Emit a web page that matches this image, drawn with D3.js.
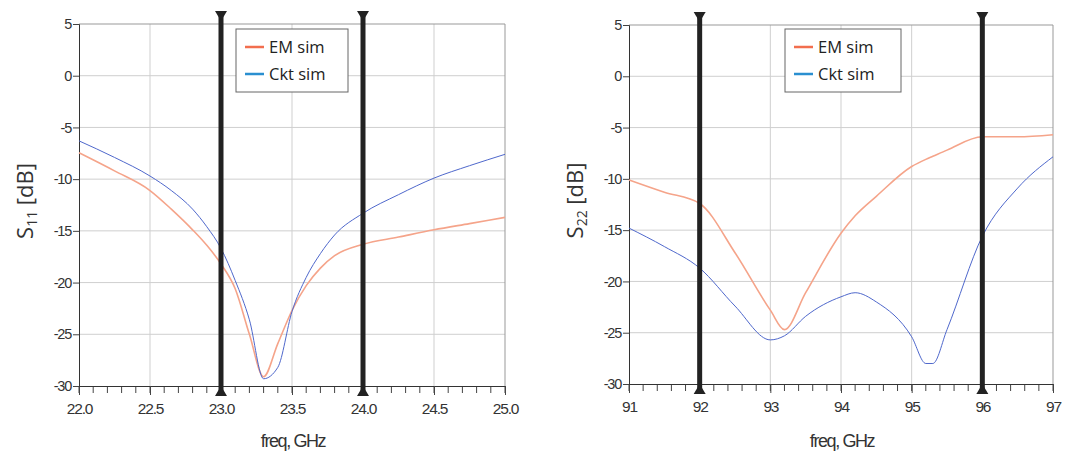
<!DOCTYPE html>
<html>
<head>
<meta charset="utf-8">
<script src="https://cdn.jsdelivr.net/npm/d3@7"></script>
<style>
  body { margin: 0; background: #fff; }
  svg { display: block; }
  .tick text { font-family: "Liberation Sans", Arial, sans-serif; letter-spacing: -1.2px; }
</style>
</head>
<body>
<div id="chart"></div>
<script>
// S11 panel (left)
const s11Freq = [22.0, 22.25, 22.5, 22.65, 22.8, 22.9, 23.0, 23.1, 23.2, 23.3, 23.4, 23.5, 23.6, 23.7, 23.8, 24.0, 24.25, 24.5, 24.75, 25.0];
const s11Em   = [-7.45, -9.2, -11.1, -12.9, -14.9, -16.4, -18.2, -20.6, -25.0, -29.1, -25.9, -22.7, -20.3, -18.6, -17.4, -16.3, -15.6, -14.9, -14.3, -13.7];
const s11Ckt  = [-6.3, -7.9, -9.7, -11.1, -12.9, -14.6, -16.7, -19.8, -23.6, -29.3, -28.2, -22.8, -19.5, -17.2, -15.4, -13.3, -11.5, -9.9, -8.7, -7.6];
const s11Markers = [23.0, 24.0];
const s11Ticks = [22.0, 22.5, 23.0, 23.5, 24.0, 24.5, 25.0];

// S22 panel (right)
const s22Freq = [91.0, 91.5, 92.0, 92.5, 93.0, 93.2, 93.5, 94.0, 94.2, 94.5, 95.0, 95.2, 95.3, 95.5, 96.0, 96.5, 97.0];
const s22Em   = [-10.1, -11.3, -12.4, -17.2, -22.8, -24.7, -21.1, -15.3, -13.6, -11.7, -8.8, -8.1, -7.8, -7.2, -5.9, -5.9, -5.7];
const s22Ckt  = [-14.8, -16.6, -18.7, -22.4, -25.7, -25.3, -23.4, -21.5, -21.1, -22.0, -25.4, -28.0, -28.0, -24.7, -15.6, -10.9, -7.85];
const s22Markers = [92, 96];
const s22Ticks = [91, 92, 93, 94, 95, 96, 97];

const yTicks = [5, 0, -5, -10, -15, -20, -25, -30];
const seriesNames = ["EM sim", "Ckt sim"];

const colors = { em: "#f5a48a", ckt: "#4f68cc", emLegend: "#f26e4e", cktLegend: "#2a8fd0" };

const width = 1065, height = 463;
const svg = d3.select("#chart").append("svg")
    .attr("width", width)
    .attr("height", height);

const hyphen = f => d => f(d).replace("\u2212", "-");

const panels = [
    { left: 79, right: 505, top: 24, bottom: 386, freq: s11Freq, em: s11Em, ckt: s11Ckt,
      markers: s11Markers, ticks: s11Ticks, minorStep: 0.1, fmt: d3.format(".1f"), sub: "11",
      legend: [236, 29, 112, 63] },
    { left: 629, right: 1053, top: 25, bottom: 384, freq: s22Freq, em: s22Em, ckt: s22Ckt,
      markers: s22Markers, ticks: s22Ticks, minorStep: 0.2, fmt: d3.format("d"), sub: "22",
      legend: [785, 29, 116, 63] }
];

panels.forEach(p => drawPanel(p));

function drawPanel(p) {
    const dom = d3.extent(p.ticks);
    const x = d3.scaleLinear().domain(dom).range([p.left, p.right]);
    const y = d3.scaleLinear().domain([-30, 5]).range([p.bottom, p.top]);
    const g = svg.append("g");

    // grid
    g.append("g").selectAll("line").data(yTicks.slice(1, -1)).join("line")
        .attr("x1", p.left).attr("x2", p.right)
        .attr("y1", d => y(d)).attr("y2", d => y(d))
        .attr("stroke", "#cfcfcf");
    g.append("g").selectAll("line").data(p.ticks.slice(1, -1)).join("line")
        .attr("y1", p.top).attr("y2", p.bottom)
        .attr("x1", d => x(d)).attr("x2", d => x(d))
        .attr("stroke", "#cfcfcf");

    // frame top / right
    g.append("path")
        .attr("d", `M${p.left},${p.top}H${p.right}V${p.bottom}`)
        .attr("fill", "none").attr("stroke", "#999");

    // minor ticks along bottom
    const minor = d3.range(dom[0], dom[1] + 1e-9, p.minorStep);
    g.append("g").selectAll("line").data(minor).join("line")
        .attr("x1", d => x(d)).attr("x2", d => x(d))
        .attr("y1", p.bottom).attr("y2", p.bottom + 7)
        .attr("stroke", "#444");

    // axes
    const xAxis = g.append("g")
        .attr("transform", `translate(0,${p.bottom})`)
        .call(d3.axisBottom(x).tickValues(p.ticks).tickFormat(p.fmt).tickSize(9).tickPadding(8));
    xAxis.select(".domain").attr("stroke", "#333");
    xAxis.selectAll(".tick line").attr("stroke", "#444");
    xAxis.selectAll("text").attr("font-size", 15.5).attr("fill", "#333");

    const yAxis = g.append("g")
        .attr("transform", `translate(${p.left},0)`)
        .call(d3.axisLeft(y).tickValues(yTicks).tickFormat(hyphen(d3.format("d"))).tickSize(6).tickPadding(2));
    yAxis.select(".domain").attr("stroke", "#333");
    yAxis.selectAll(".tick line").attr("stroke", "#444");
    yAxis.selectAll("text").attr("font-size", 14.5).attr("fill", "#333");

    // curves
    const line = (vals) => d3.line()
        .x((d, i) => x(p.freq[i]))
        .y(d => y(d))
        .curve(d3.curveMonotoneX)(vals);
    g.append("path").attr("d", line(p.em)).attr("fill", "none")
        .attr("stroke", colors.em).attr("stroke-width", 1.6);
    g.append("path").attr("d", line(p.ckt)).attr("fill", "none")
        .attr("stroke", colors.ckt).attr("stroke-width", 1);

    // markers
    const mk = g.append("g").selectAll("g").data(p.markers).join("g")
        .attr("transform", d => `translate(${x(d)},0)`);
    mk.append("line")
        .attr("y1", p.top - 12).attr("y2", p.bottom + 9)
        .attr("stroke", "#222").attr("stroke-width", 5);
    mk.append("path")
        .attr("d", `M-6,${p.top - 13}H6L0,${p.top - 3}Z`)
        .attr("fill", "#222");
    mk.append("path")
        .attr("d", `M-6,${p.bottom + 10}H6L0,${p.bottom}Z`)
        .attr("fill", "#222");

    // legend
    const [lx, ly, lw, lh] = p.legend;
    const lg = g.append("g").attr("transform", `translate(${lx},${ly})`);
    lg.append("rect").attr("width", lw).attr("height", lh)
        .attr("fill", "#fff").attr("stroke", "#666");
    const legCols = [colors.emLegend, colors.cktLegend];
    seriesNames.forEach((name, i) => {
        const yy = 18 + i * 27;
        lg.append("line").attr("x1", 9).attr("x2", 28).attr("y1", yy).attr("y2", yy)
            .attr("stroke", legCols[i]).attr("stroke-width", 2.5);
        lg.append("text").attr("x", 33).attr("y", yy + 6)
            .attr("font-family", "Open Sans, sans-serif").attr("font-size", 16.5)
            .attr("fill", "#222").text(name);
    });

    // axis labels
    g.append("text")
        .attr("x", (p.left + p.right) / 2 + 1).attr("y", 447)
        .attr("text-anchor", "middle")
        .attr("font-family", "Liberation Sans, Arial, sans-serif")
        .attr("font-size", 18).attr("letter-spacing", -1.4).attr("fill", "#333")
        .text("freq, GHz");

    const yl = g.append("text")
        .attr("transform", `translate(${p.left - 46},${(p.top + p.bottom) / 2 - 4}) rotate(-90)`)
        .attr("text-anchor", "middle")
        .attr("font-family", "Open Sans, sans-serif")
        .attr("font-size", 22).attr("fill", "#333");
    yl.append("tspan").text("S");
    yl.append("tspan").attr("font-size", 14).attr("dy", 4).text(p.sub);
    yl.append("tspan").attr("dy", -4).text(" [dB]");
}
</script>
</body>
</html>
